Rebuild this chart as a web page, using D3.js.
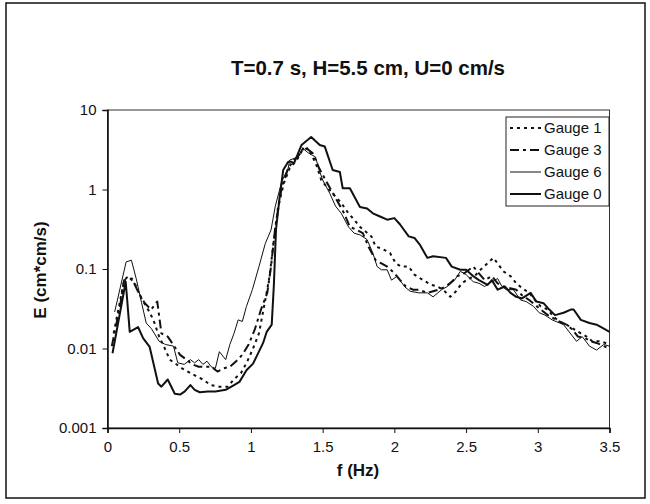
<!DOCTYPE html>
<html><head><meta charset="utf-8">
<script src="https://cdn.jsdelivr.net/npm/d3@7"></script>
<style>body{margin:0;background:#fff}svg{display:block}text{font-family:Arial,"Liberation Sans",sans-serif;fill:#111}</style>
</head><body><svg id="c" width="650" height="504"></svg>
<script>
// ---- data (log10 of E) ----
const g0F = [0.035,0.127,0.155,0.213,0.248,0.294,0.353,0.376,0.42,0.469,0.506,0.539,0.578,0.608,0.643,0.70,0.752,0.824,0.882,0.92,0.97,1.015,1.085,1.11,1.145,1.16,1.175,1.20,1.225,1.26,1.28,1.30,1.353,1.38,1.42,1.48,1.515,1.57,1.62,1.64,1.69,1.76,1.81,1.85,1.90,1.95,2.0,2.04,2.10,2.14,2.18,2.23,2.27,2.36,2.40,2.46,2.50,2.55,2.59,2.65,2.68,2.72,2.77,2.81,2.85,2.89,2.95,2.99,3.04,3.08,3.12,3.18,3.23,3.25,3.30,3.36,3.41,3.47,3.50];
const g0L = [-2.06,-1.16,-1.79,-1.73,-1.87,-1.98,-2.44,-2.48,-2.39,-2.57,-2.58,-2.54,-2.46,-2.52,-2.55,-2.54,-2.54,-2.52,-2.46,-2.42,-2.27,-2.19,-1.93,-1.79,-1.70,-1.2,-0.5,-0.1,0.245,0.35,0.35,0.33,0.56,0.60,0.66,0.56,0.54,0.245,0.22,0.015,0.015,-0.22,-0.24,-0.30,-0.34,-0.38,-0.36,-0.44,-0.59,-0.61,-0.70,-0.86,-0.84,-0.86,-0.97,-1.01,-1.01,-1.09,-1.14,-1.20,-1.14,-1.26,-1.22,-1.30,-1.35,-1.37,-1.30,-1.41,-1.43,-1.51,-1.58,-1.55,-1.51,-1.51,-1.64,-1.68,-1.70,-1.76,-1.79];

const g6F = [0.05,0.13,0.167,0.20,0.237,0.27,0.306,0.36,0.405,0.46,0.49,0.535,0.578,0.607,0.636,0.665,0.694,0.723,0.752,0.78,0.824,0.853,0.882,0.911,0.94,0.969,1.01,1.056,1.10,1.14,1.17,1.215,1.26,1.27,1.33,1.36,1.40,1.45,1.475,1.50,1.55,1.59,1.63,1.68,1.72,1.76,1.81,1.85,1.88,1.91,1.95,1.98,2.02,2.07,2.11,2.17,2.23,2.27,2.33,2.37,2.42,2.46,2.50,2.55,2.59,2.63,2.68,2.72,2.75,2.78,2.83,2.88,2.92,2.97,3.01,3.05,3.10,3.18,3.27,3.31,3.36,3.41,3.46,3.50];
const g6L = [-1.54,-0.91,-0.89,-1.12,-1.42,-1.68,-1.75,-1.91,-1.95,-1.97,-2.18,-2.20,-2.14,-2.18,-2.14,-2.20,-2.16,-2.23,-2.25,-2.04,-2.14,-1.95,-1.81,-1.64,-1.66,-1.47,-1.26,-0.97,-0.68,-0.51,-0.21,0.10,0.27,0.37,0.41,0.52,0.46,0.41,0.25,0.12,-0.05,-0.21,-0.30,-0.47,-0.55,-0.57,-0.63,-0.80,-0.97,-1.01,-1.01,-1.14,-1.09,-1.22,-1.28,-1.30,-1.30,-1.35,-1.26,-1.22,-1.14,-1.03,-1.07,-1.16,-1.18,-1.22,-1.16,-1.12,-1.22,-1.26,-1.26,-1.39,-1.41,-1.47,-1.55,-1.58,-1.64,-1.70,-1.91,-1.85,-1.97,-2.02,-1.95,-1.97];

const g1F = [0.043,0.116,0.145,0.19,0.23,0.28,0.32,0.36,0.405,0.434,0.52,0.58,0.62,0.665,0.72,0.78,0.84,0.88,0.93,0.97,1.01,1.056,1.10,1.13,1.16,1.19,1.23,1.27,1.32,1.36,1.40,1.43,1.46,1.49,1.53,1.59,1.63,1.68,1.72,1.76,1.84,1.87,1.91,1.97,2.01,2.05,2.10,2.14,2.20,2.26,2.30,2.34,2.39,2.43,2.47,2.52,2.56,2.60,2.69,2.72,2.76,2.81,2.85,2.89,2.94,2.98,3.02,3.07,3.11,3.15,3.20,3.30,3.34,3.38,3.44,3.50];
const g1L = [-1.81,-1.14,-1.09,-1.18,-1.35,-1.50,-1.64,-1.85,-2.02,-2.14,-2.25,-2.31,-2.35,-2.39,-2.46,-2.48,-2.48,-2.39,-2.31,-2.18,-2.02,-1.81,-1.39,-1.09,-0.63,-0.21,0.08,0.27,0.37,0.50,0.52,0.41,0.29,0.12,0.03,-0.09,-0.17,-0.30,-0.38,-0.47,-0.59,-0.72,-0.74,-0.80,-0.93,-0.97,-0.97,-1.07,-1.14,-1.20,-1.22,-1.26,-1.35,-1.28,-1.18,-1.12,-1.09,-1.01,-0.86,-0.93,-1.03,-1.09,-1.18,-1.24,-1.30,-1.39,-1.47,-1.51,-1.60,-1.66,-1.70,-1.81,-1.85,-1.91,-1.91,-1.95];

const g3F = [0.03,0.087,0.116,0.17,0.217,0.26,0.304,0.347,0.376,0.42,0.506,0.55,0.593,0.636,0.723,0.767,0.81,0.853,0.897,0.94,0.984,1.027,1.07,1.114,1.14,1.17,1.215,1.26,1.30,1.35,1.37,1.43,1.475,1.52,1.56,1.61,1.65,1.69,1.74,1.78,1.82,1.87,1.91,1.95,2.0,2.04,2.08,2.13,2.17,2.23,2.31,2.36,2.40,2.44,2.49,2.55,2.63,2.68,2.72,2.76,2.85,2.89,2.94,2.98,3.02,3.07,3.11,3.15,3.20,3.24,3.28,3.33,3.37,3.41,3.46,3.50];
const g3L = [-1.97,-1.47,-1.14,-1.12,-1.30,-1.43,-1.51,-1.41,-1.81,-1.85,-2.08,-2.14,-2.20,-2.23,-2.23,-2.29,-2.25,-2.23,-2.16,-2.08,-1.95,-1.76,-1.51,-1.30,-0.97,-0.47,0.03,0.27,0.37,0.46,0.54,0.46,0.27,0.12,-0.01,-0.17,-0.30,-0.47,-0.51,-0.55,-0.72,-0.89,-0.93,-0.97,-1.05,-1.14,-1.22,-1.26,-1.26,-1.30,-1.26,-1.22,-1.16,-1.09,-1.05,-0.97,-1.14,-1.09,-1.18,-1.22,-1.26,-1.33,-1.39,-1.45,-1.51,-1.58,-1.62,-1.66,-1.70,-1.76,-1.85,-1.87,-1.91,-1.93,-1.97,-2.00];

const seriesNames = ["Gauge 1","Gauge 3","Gauge 6","Gauge 0"];
const xTicks = [0,0.5,1,1.5,2,2.5,3,3.5];
const yTicks = [0.001,0.01,0.1,1,10];
const yTickLabels = ["0.001","0.01","0.1","1","10"];
const title = "T=0.7 s, H=5.5 cm, U=0 cm/s";

// ---- drawing ----
const svg = d3.select("#c");
const L=107.5, R=609.5, T=110, B=428;
const x = d3.scaleLinear().domain([0,3.5]).range([L,R]);
const y = d3.scaleLog().domain([0.001,10]).range([B,T]);

svg.append("rect").attr("x",6).attr("y",3).attr("width",639).attr("height",495)
  .attr("fill","none").attr("stroke","#111").attr("stroke-width",1.5);

svg.append("text").attr("x",368).attr("y",75).attr("text-anchor","middle")
  .attr("font-size",20.5).attr("font-weight","bold").text(title);

// frame
svg.append("rect").attr("x",L).attr("y",T).attr("width",R-L).attr("height",B-T)
  .attr("fill","none").attr("stroke","#333").attr("stroke-width",1);

const xa = svg.append("g").attr("transform",`translate(0,${B})`)
  .call(d3.axisBottom(x).tickValues(xTicks).tickFormat(d=>String(d)).tickSize(5).tickPadding(8));
const ya = svg.append("g").attr("transform",`translate(${L},0)`)
  .call(d3.axisLeft(y).tickValues(yTicks).tickFormat((d,i)=>yTickLabels[i]).tickSize(5).tickPadding(6));
[xa,ya].forEach(a=>{
  a.selectAll("path").attr("stroke","#111").attr("stroke-width",1.6);
  a.selectAll("line").attr("stroke","#111");
  a.selectAll("text").attr("font-size",15).attr("font-family","Arial, 'Liberation Sans', sans-serif").attr("fill","#111");
});

svg.append("text").attr("x",358).attr("y",476).attr("text-anchor","middle")
  .attr("font-size",17).attr("font-weight","bold").text("f (Hz)");
svg.append("text").attr("transform","translate(46,270) rotate(-90)").attr("text-anchor","middle")
  .attr("font-size",17).attr("font-weight","bold").text("E (cm*cm/s)");

const styles = [
  {F:g1F, Lg:g1L, w:2, dash:"3,4"},
  {F:g3F, Lg:g3L, w:2, dash:"9,4,3,4"},
  {F:g6F, Lg:g6L, w:1, dash:null},
  {F:g0F, Lg:g0L, w:2, dash:null}
];
const line = d3.line().x(d=>x(d[0])).y(d=>y(d[1]));
styles.forEach(s=>{
  const pts = s.F.map((f,i)=>[f, Math.pow(10, s.Lg[i])]);
  svg.append("path").datum(pts).attr("d",line).attr("fill","none")
    .attr("stroke","#111").attr("stroke-width",s.w)
    .attr("stroke-dasharray",s.dash).attr("stroke-linejoin","round");
});

// legend
const lg = svg.append("g");
lg.append("rect").attr("x",506).attr("y",117).attr("width",103).attr("height",89)
  .attr("fill","#fff").attr("stroke","#222").attr("stroke-width",1);
seriesNames.forEach((n,i)=>{
  const yy = 128 + i*22;
  lg.append("line").attr("x1",510).attr("x2",541).attr("y1",yy).attr("y2",yy)
    .attr("stroke","#111").attr("stroke-width",styles[i].w).attr("stroke-dasharray",styles[i].dash);
  lg.append("text").attr("x",544).attr("y",yy+5).attr("font-size",15).text(n);
});
</script></body></html>
